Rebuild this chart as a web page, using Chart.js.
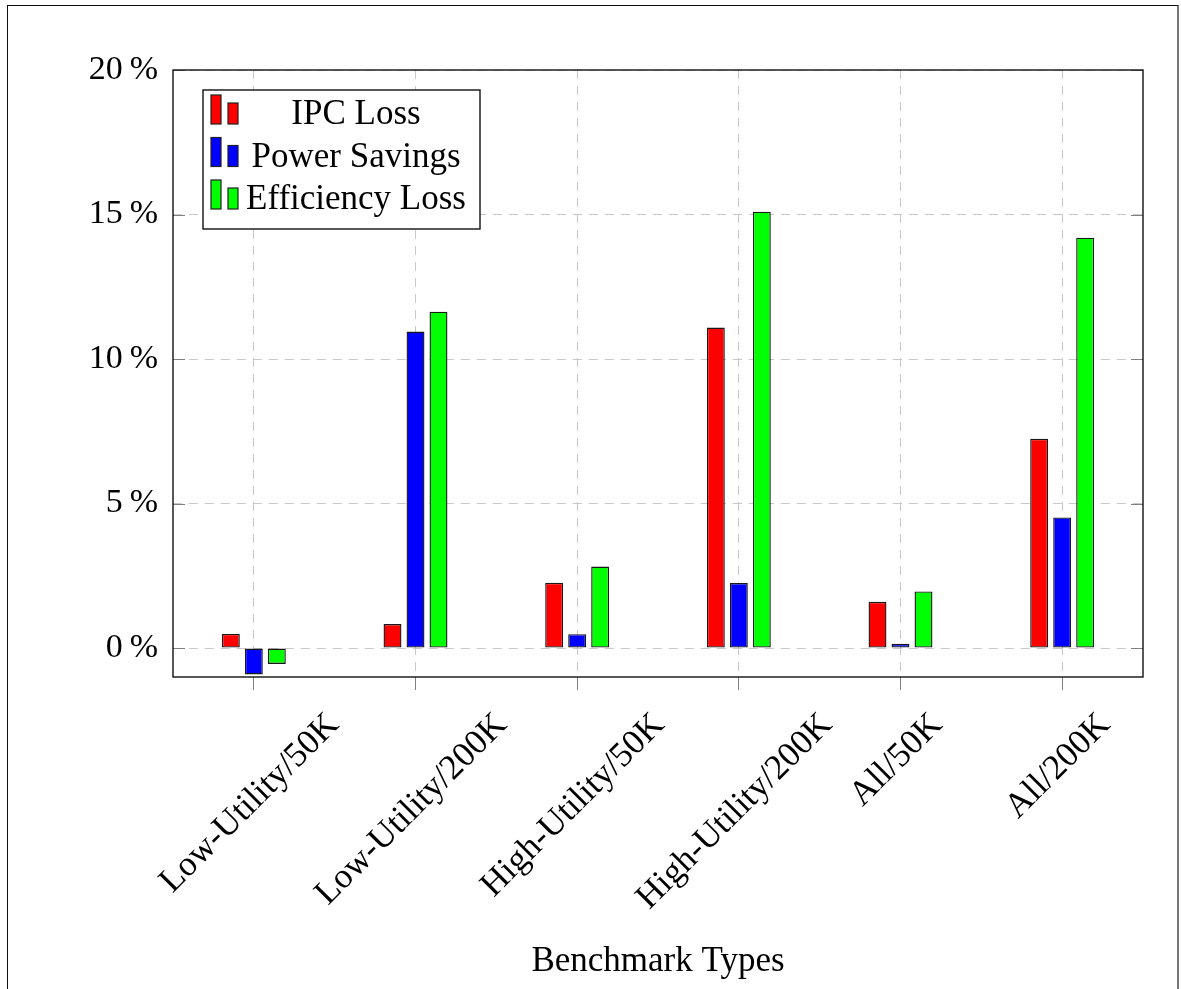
<!DOCTYPE html>
<html>
<head>
<meta charset="utf-8">
<title>Benchmark Types</title>
<script src="https://cdn.jsdelivr.net/npm/chart.js@4.4.1/dist/chart.umd.min.js"></script>
<style>
  html, body { margin: 0; padding: 0; background: #fff; }
  #wrap { position: relative; width: 1181px; height: 989px; }
  #frame {
    position: absolute; left: 7px; top: 5px; width: 1172px; height: 1000px;
    border-left: 1.5px solid #111; border-top: 1.5px solid #111; border-right: 2.5px solid #777;
    box-sizing: border-box; pointer-events: none;
  }
  canvas { position: absolute; left: 0; top: 0; }
</style>
</head>
<body>
<div id="wrap">
  <canvas id="chart" width="1181" height="989"></canvas>
  <div id="frame"></div>
</div>
<script>
// Benchmark categories
const categories = [
  'Low-Utility/50K', 'Low-Utility/200K', 'High-Utility/50K',
  'High-Utility/200K', 'All/50K', 'All/200K'
];

// Percent values per benchmark type
const ipcLoss        = [0.49, 0.83, 2.26, 11.09, 1.60, 7.24];
const powerSavings   = [-0.91, 10.95, 0.48, 2.25, 0.15, 4.52];
const efficiencyLoss = [-0.55, 11.64, 2.82, 15.10, 1.96, 14.20];

const seriesNames  = ['IPC Loss', 'Power Savings', 'Efficiency Loss'];
const seriesColors = ['#ff0000', '#0000ff', '#00ff00'];

// Y axis
const yMin = -1, yMax = 20, yStep = 5;
const yTickValues = [0, 5, 10, 15, 20];

const serif = "'Liberation Serif', 'Times New Roman', serif";

// Rotated category labels, centred under each tick
const rotatedLabels = {
  id: 'rotatedLabels',
  afterDraw(chart) {
    const xs = chart.scales.x;
    const ctx = chart.ctx;
    const size = 35;
    ctx.save();
    ctx.font = size + 'px ' + serif;
    ctx.fillStyle = '#000';
    ctx.textAlign = 'center';
    ctx.textBaseline = 'middle';
    const top = chart.chartArea.bottom + 32;
    categories.forEach((label, i) => {
      const x = xs.getPixelForTick(i);
      const w = ctx.measureText(label).width;
      const side = (w + size * 0.85) * Math.SQRT1_2;
      ctx.save();
      ctx.translate(x - 4, top + side / 2);
      ctx.rotate(-Math.PI / 4);
      ctx.fillText(label, 0, 0);
      ctx.restore();
    });
    ctx.restore();
  }
};

// Closed axis box with inner tick marks
const axisBox = {
  id: 'axisBox',
  afterDatasetsDraw(chart) {
    const {ctx, chartArea: a} = chart;
    const ys = chart.scales.y;
    ctx.save();
    ctx.strokeStyle = '#808080';
    ctx.lineWidth = 1;
    yTickValues.forEach(v => {
      const y = Math.round(ys.getPixelForValue(v)) + 0.5;
      ctx.beginPath();
      ctx.moveTo(a.left, y); ctx.lineTo(a.left + 12, y);
      ctx.moveTo(a.right, y); ctx.lineTo(a.right - 12, y);
      ctx.stroke();
    });
    ctx.strokeStyle = '#111';
    ctx.lineWidth = 1.4;
    ctx.strokeRect(a.left, a.top, a.right - a.left, a.bottom - a.top);
    ctx.restore();
  }
};

// Legend drawn inside the plot area, with bar-pair symbols
const insetLegend = {
  id: 'insetLegend',
  afterDraw(chart) {
    const ctx = chart.ctx;
    const box = {x: 203, y: 90, w: 277, h: 139};
    ctx.save();
    ctx.fillStyle = '#fff';
    ctx.fillRect(box.x, box.y, box.w, box.h);
    ctx.strokeStyle = '#111';
    ctx.lineWidth = 1.4;
    ctx.strokeRect(box.x, box.y, box.w, box.h);
    ctx.font = '35px ' + serif;
    ctx.textAlign = 'center';
    ctx.textBaseline = 'middle';
    chart.data.datasets.forEach((ds, i) => {
      const cy = 113 + i * 42.5;
      ctx.fillStyle = ds.backgroundColor;
      ctx.strokeStyle = '#202020';
      ctx.lineWidth = 1.2;
      ctx.fillRect(211, cy - 18, 10, 29);
      ctx.strokeRect(211, cy - 18, 10, 29);
      ctx.fillRect(228, cy - 10, 10, 21);
      ctx.strokeRect(228, cy - 10, 10, 21);
      ctx.fillStyle = '#000';
      ctx.fillText(ds.label, 356, cy + 2);
    });
    ctx.restore();
  }
};

const seriesValues = [ipcLoss, powerSavings, efficiencyLoss];

new Chart(document.getElementById('chart'), {
  type: 'bar',
  data: {
    labels: categories,
    datasets: seriesValues.map((vals, i) => ({
      label: seriesNames[i],
      data: vals,
      backgroundColor: seriesColors[i],
      borderColor: '#181818',
      borderWidth: 1.4,
      borderSkipped: false,
      categoryPercentage: 0.4267,
      barPercentage: 0.78
    }))
  },
  options: {
    responsive: false,
    animation: false,
    devicePixelRatio: 1,
    layout: { padding: { left: 0, top: 70, right: 38, bottom: 0 } },
    plugins: {
      legend: { display: false },
      tooltip: { enabled: false }
    },
    scales: {
      x: {
        offset: true,
        grid: {
          offset: false,
          color: '#c8c8c8',
          lineWidth: 1,
          drawTicks: true,
          tickLength: 13,
          tickColor: '#808080',
          tickBorderDash: []
        },
        border: { display: false, dash: [9, 7] },
        ticks: { display: false },
        title: {
          display: true,
          text: 'Benchmark Types',
          color: '#000',
          font: { family: serif, size: 35 },
          padding: { top: 0, bottom: 6 }
        },
        afterFit(scale) { scale.height = 312; }
      },
      y: {
        min: yMin,
        max: yMax,
        ticks: {
          stepSize: yStep,
          color: '#000',
          padding: 15,
          font: { family: serif, size: 34 },
          callback: v => v + '\u2009%'
        },
        afterBuildTicks(scale) {
          scale.ticks = yTickValues.map(v => ({ value: v }));
        },
        grid: {
          color: '#c8c8c8',
          lineWidth: 1,
          drawTicks: false
        },
        border: { display: false, dash: [9, 7] },
        afterFit(scale) { scale.width = 173; }
      }
    }
  },
  plugins: [axisBox, rotatedLabels, insetLegend]
});
</script>
</body>
</html>
